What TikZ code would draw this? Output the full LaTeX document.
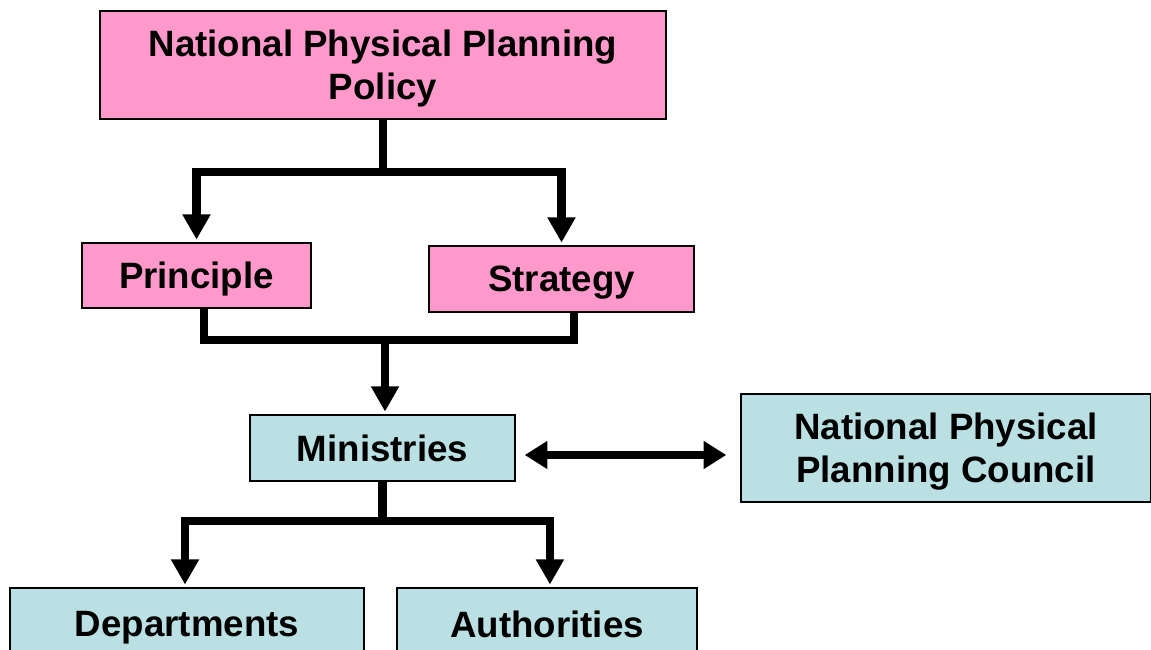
\documentclass[tikz,border=0pt]{standalone}
\usepackage{fontspec}
\setmainfont{Liberation Sans}
\usetikzlibrary{arrows.meta}
\definecolor{pinkfill}{HTML}{FF99CC}
\definecolor{cyanfill}{HTML}{BBE0E3}
\begin{document}
\begin{tikzpicture}[x=0.75pt,y=-0.75pt,
  box/.style={draw=black, line width=1.1pt, inner sep=0pt, align=center, text depth=0pt,
    font=\bfseries\fontsize{27.5}{32}\selectfont},
  pinkbox/.style={box, fill=pinkfill},
  cyanbox/.style={box, fill=cyanfill},
  conn/.style={line width=6.5pt},
  arr/.style={conn, -{Triangle[width=20pt,length=19pt]}, shorten >=2pt},
  darr/.style={conn, {Triangle[width=20pt,length=17pt]}-{Triangle[width=20pt,length=17pt]}},
]
\useasboundingbox (0,0) rectangle (1151,649);
\clip (0,0) rectangle (1151,649);
\fill[white] (0,0) rectangle (1151,649);

\node[pinkbox, minimum width=424.5pt, minimum height=81pt] (top) at (383,65)
  {National Physical Planning\\Policy};
\node[pinkbox, minimum width=171.75pt, minimum height=48.75pt] (prin) at (196.5,275.5) {Principle};
\node[pinkbox, minimum width=198.75pt, minimum height=49.5pt] (strat) at (561.5,279) {Strategy};
\node[cyanbox, minimum width=198.75pt, minimum height=49.5pt] (min) at (382.5,448) {Ministries};
\node[cyanbox, minimum width=307.5pt, minimum height=81pt] (npc) at (946,448)
  {National Physical\\Planning Council};
\node[cyanbox, minimum width=265.5pt, minimum height=54pt] (dep) at (187,624) {Departments};
\node[cyanbox, minimum width=225pt, minimum height=54pt] (auth) at (547,624) {Authorities};

\coordinate (j1) at (381,172);
\coordinate (j2) at (385,340);
\coordinate (j3) at (385,521);

\draw[arr] (top.south) -- (top.south |- j1) -| (prin.north);
\draw[arr] (top.south |- j1) -| (strat.north);

\draw[conn] ([xshift=5.6pt]prin.south) |- (j2) -| ([xshift=9.4pt]strat.south);
\draw[arr] (j2) -- (j2 |- min.north);

\draw[arr] (min.south) -- (min.south |- j3) -| ([xshift=-1.5pt]dep.north);
\draw[arr] (min.south |- j3) -| ([xshift=2.2pt]auth.north);

\draw[darr, shorten <=6.75pt, shorten >=10.5pt] ([yshift=-5.25pt]min.east) -- ([yshift=-5.25pt]npc.west);
\end{tikzpicture}
\end{document}
